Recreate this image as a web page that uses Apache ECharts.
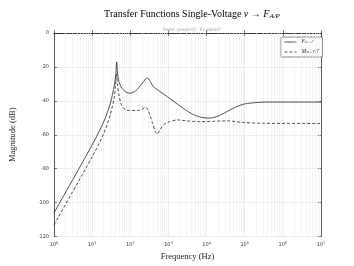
<!DOCTYPE html>
<html><head><meta charset="utf-8">
<script src="https://cdn.jsdelivr.net/npm/echarts@6/dist/echarts.min.js"></script>
<style>html,body{margin:0;padding:0;background:#fff}#c{width:354px;height:266px}</style>
</head><body><div id="c"></div>
<script>
const freqSolid = [1,10,20,30,38,42,44,46,50,60,80,100,140,200,250,280,320,400,600,1000,2000,4000,7000,12000,20000,30000,60000,100000,200000,400000,1e7];
const magSolid  = [-106,-66,-52.5,-41.5,-31,-24,-17,-23,-28.5,-32.5,-35,-35.5,-34,-30,-27.2,-26.5,-27.8,-31.5,-34.5,-38,-43,-47.5,-49.6,-50.2,-49,-47,-43.5,-41.8,-41,-40.7,-40.7];
const freqDash  = [1,10,20,30,38,41,43,46,50,60,80,150,200,250,300,380,450,510,600,750,1000,1700,3000,7000,15000,34000,100000,300000,1e7];
const magDash   = [-113,-73,-59.5,-48,-38,-31,-24,-30,-36,-43,-45.5,-45.7,-45,-43.7,-46,-53,-58,-59.5,-57,-54,-52.5,-51.2,-51.8,-52.3,-52,-51.8,-52.8,-53.2,-53.3];
const yTicks = [-120,-100,-80,-60,-40,-20,0];
const minorFreqs = [];
for (let e = 0; e < 7; e++) for (let m = 2; m <= 9; m++) minorFreqs.push(m * Math.pow(10, e));

const serif = 'Liberation Serif';
const chart = echarts.init(document.getElementById('c'));
const xLab = v => { const e = Math.round(Math.log10(v)); return '10{s|' + e + '}'; };
chart.setOption({
  animation: false,
  backgroundColor: '#fff',
  title: [{
    text: 'Transfer Functions Single-Voltage {i|v} → {i|F}{sub|A/P}',
    left: 187, top: 3, textAlign: 'center',
    textStyle: { fontFamily: serif, fontSize: 10, fontWeight: 'normal', color: '#000',
      rich: { i: { fontFamily: serif, fontStyle: 'italic', fontSize: 10 },
              sub: { fontFamily: serif, fontStyle: 'italic', fontSize: 7, padding: [5,0,0,0] } } }
  }, {
    text: 'From: piezo{s|v}(t)  To: piezo{s|F}',
    left: 187, top: 22, textAlign: 'center',
    textStyle: { fontFamily: 'DejaVu Sans', fontSize: 4.5, fontWeight: 'normal', color: '#999',
      rich: { s: { fontSize: 3.2, color: '#999' } } }
  }],
  legend: {
    show: true, type: 'plain',
    left: 281, top: 37, right: 'auto', bottom: 'auto', orient: 'vertical',
    backgroundColor: '#fff', borderColor: '#333', borderWidth: 0.6,
    padding: [2, 3, 2, 3], itemGap: 4, itemWidth: 12, itemHeight: 6,
    itemStyle: { opacity: 0 },
    lineStyle: { width: 0.8 },
    data: ['F', 'M'],
    formatter: n => n === 'F' ? '{i|F}{s|a}{p|v→P}' : '{i|M}{s|a}{p|v→P}/{i|T}',
    textStyle: { fontFamily: serif, fontSize: 5, color: '#222',
      rich: { i: { fontFamily: serif, fontStyle: 'italic', fontSize: 5.5, color: '#222' },
              s: { fontFamily: serif, fontStyle: 'italic', fontSize: 3.5, color: '#222' },
              p: { fontFamily: serif, fontStyle: 'italic', fontSize: 3.5, color: '#222' } } }
  },
  grid: { left: 53, right: 33, top: 33, bottom: 29 },
  xAxis: [{
    type: 'log', logBase: 10, min: 1, max: 1e7,
    name: 'Frequency (Hz)', nameLocation: 'middle', nameGap: 14,
    nameTextStyle: { fontFamily: serif, fontSize: 8.5, color: '#222' },
    axisLine: { lineStyle: { color: '#333', width: 0.8 } },
    axisTick: { inside: true, length: 3, lineStyle: { color: '#333', width: 0.6 } },
    axisLabel: { formatter: xLab, fontFamily: 'DejaVu Sans', fontSize: 5, color: '#333', margin: 4,
      rich: { s: { fontSize: 3.5, padding: [0,0,4,0], color: '#333' } } },
    splitLine: { show: true, lineStyle: { color: '#e0e0e0', width: 0.6 } }
  }, {
    type: 'log', logBase: 10, min: 1, max: 1e7, position: 'top',
    axisLine: { lineStyle: { color: '#333', width: 0.8 } },
    axisTick: { inside: true, length: 3, lineStyle: { color: '#333', width: 0.6 } },
    axisLabel: { show: false }, splitLine: { show: false }
  }],
  yAxis: [{
    type: 'value', min: -120, max: 0, interval: 20,
    name: 'Magnitude (dB)', nameLocation: 'middle', nameGap: 37,
    nameTextStyle: { fontFamily: serif, fontSize: 8.5, color: '#222' },
    axisLine: { show: true, lineStyle: { color: '#333', width: 0.8 } },
    axisTick: { show: true, inside: true, length: 3, lineStyle: { color: '#333', width: 0.6 } },
    axisLabel: { fontFamily: 'DejaVu Sans', fontSize: 5, color: '#333', margin: 5 },
    splitLine: { show: true, lineStyle: { color: '#e0e0e0', width: 0.6 } }
  }, {
    type: 'value', min: -120, max: 0, interval: 20, position: 'right',
    axisLine: { show: true, lineStyle: { color: '#333', width: 0.8 } },
    axisTick: { show: true, inside: true, length: 3, lineStyle: { color: '#333', width: 0.6 } },
    axisLabel: { show: false }, splitLine: { show: false }
  }],
  series: [{
    name: 'F', type: 'line', symbol: 'none', smooth: 0.25, z: 5,
    data: freqSolid.map((f, i) => [f, magSolid[i]]),
    lineStyle: { color: '#222', width: 0.8, type: 'solid' }, itemStyle: { color: '#222' },
    markLine: { silent: true, symbol: 'none', label: { show: false }, animation: false,
      lineStyle: { color: '#ececec', width: 0.6, type: 'solid' },
      data: minorFreqs.map(f => ({ xAxis: f })) }
  }, {
    name: 'M', type: 'line', symbol: 'none', smooth: 0.25, z: 5,
    data: freqDash.map((f, i) => [f, magDash[i]]),
    lineStyle: { color: '#222', width: 0.8, type: [3, 2] }, itemStyle: { color: '#222' }
  }]
});
</script></body></html>
